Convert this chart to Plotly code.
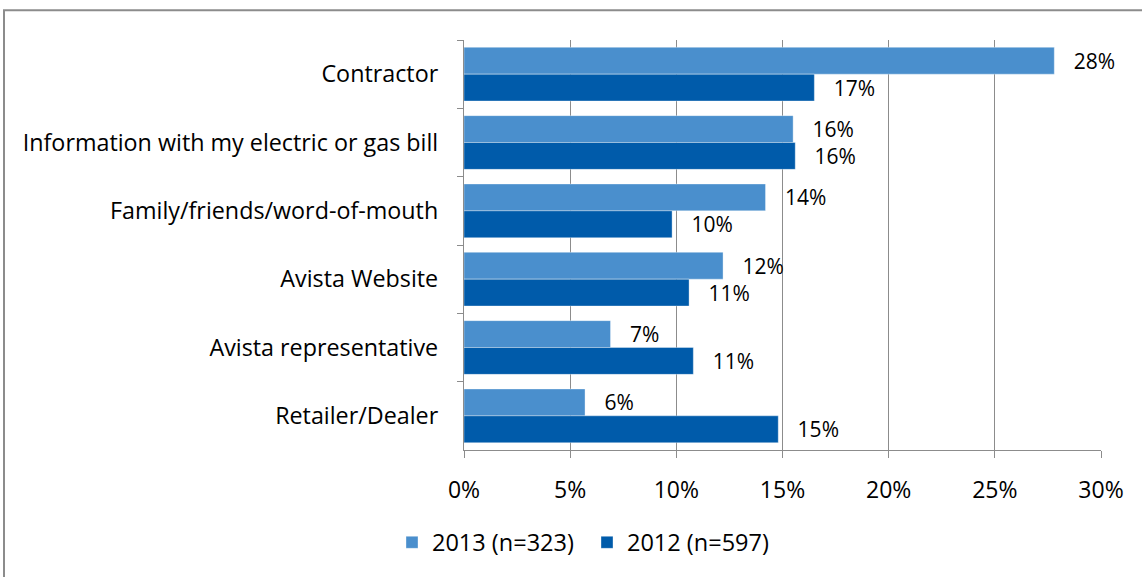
import plotly.graph_objects as go

# Information sources, top to bottom
categories = [
    "Contractor",
    "Information with my electric or gas bill",
    "Family/friends/word-of-mouth",
    "Avista Website",
    "Avista representative",
    "Retailer/Dealer",
]
share_2013 = [0.278, 0.155, 0.142, 0.122, 0.069, 0.057]
share_2012 = [0.165, 0.156, 0.098, 0.106, 0.108, 0.148]
x_ticks = [0, 0.05, 0.10, 0.15, 0.20, 0.25, 0.30]
x_tick_labels = ["0%", "5%", "10%", "15%", "20%", "25%", "30%"]
series_names = ["2013 (n=323)", "2012 (n=597)"]
series_colors = ["#4a8fcd", "#005baa"]

W, H = 1142, 577
L, R, T, B = 464, 1101, 40, 452  # plot area in pixels


def px_x(px):
    return (px - L) / (R - L)


def px_y(py):
    return (B - py) / (B - T)


FONT = "Open Sans, Calibri, Carlito, sans-serif"
GRID = "#8c8c8c"

fig = go.Figure()
for name, vals, col in zip(series_names, [share_2013, share_2012], series_colors):
    fig.add_trace(go.Bar(
        y=categories, x=vals, name=name, orientation="h",
        marker=dict(color=col, line=dict(color="rgba(255,255,255,0.35)", width=1)),
        texttemplate="\u00a0\u00a0\u00a0%{x:.0%}", textposition="outside",
        textfont=dict(size=21, color="#000000", family=FONT),
        constraintext="none", cliponaxis=False,
    ))

fig.update_layout(
    width=W, height=H,
    margin=dict(l=L, r=W - R, t=T, b=H - B, pad=0),
    paper_bgcolor="white", plot_bgcolor="white",
    barmode="group", bargap=0.214, bargroupgap=0,
    font=dict(family=FONT, size=22.5, color="#000000"),
    showlegend=True,
    legend=dict(orientation="h", x=px_x(392), xanchor="left", y=px_y(545), yanchor="middle",
                font=dict(size=23.5, family=FONT), itemwidth=30, entrywidth=150,
                entrywidthmode="pixels", tracegroupgap=0, bgcolor="rgba(0,0,0,0)"),
    xaxis=dict(range=[0, 0.30], tickvals=x_ticks, ticktext=x_tick_labels,
               showgrid=True, gridcolor=GRID, gridwidth=1.3, zeroline=False,
               showline=True, linecolor=GRID, linewidth=1.3,
               ticks="outside", ticklen=7, tickcolor=GRID, tickwidth=1.3,
               ticklabelstandoff=12, tickfont=dict(size=23, family=FONT)),
    yaxis=dict(autorange="reversed", type="category", tickson="boundaries",
               showgrid=False, showline=True, linecolor=GRID, linewidth=1.3,
               ticks="outside", ticklen=6, tickcolor=GRID, tickwidth=1.3,
               ticklabelstandoff=20, tickfont=dict(size=23.3, family=FONT)),
    shapes=[dict(type="rect", xref="paper", yref="paper",
                 x0=px_x(4), x1=px_x(1160), y0=px_y(10), y1=px_y(600),
                 line=dict(color="#8c8c8c", width=2), fillcolor="rgba(0,0,0,0)", layer="below")],
)

fig.write_html("out.html")
